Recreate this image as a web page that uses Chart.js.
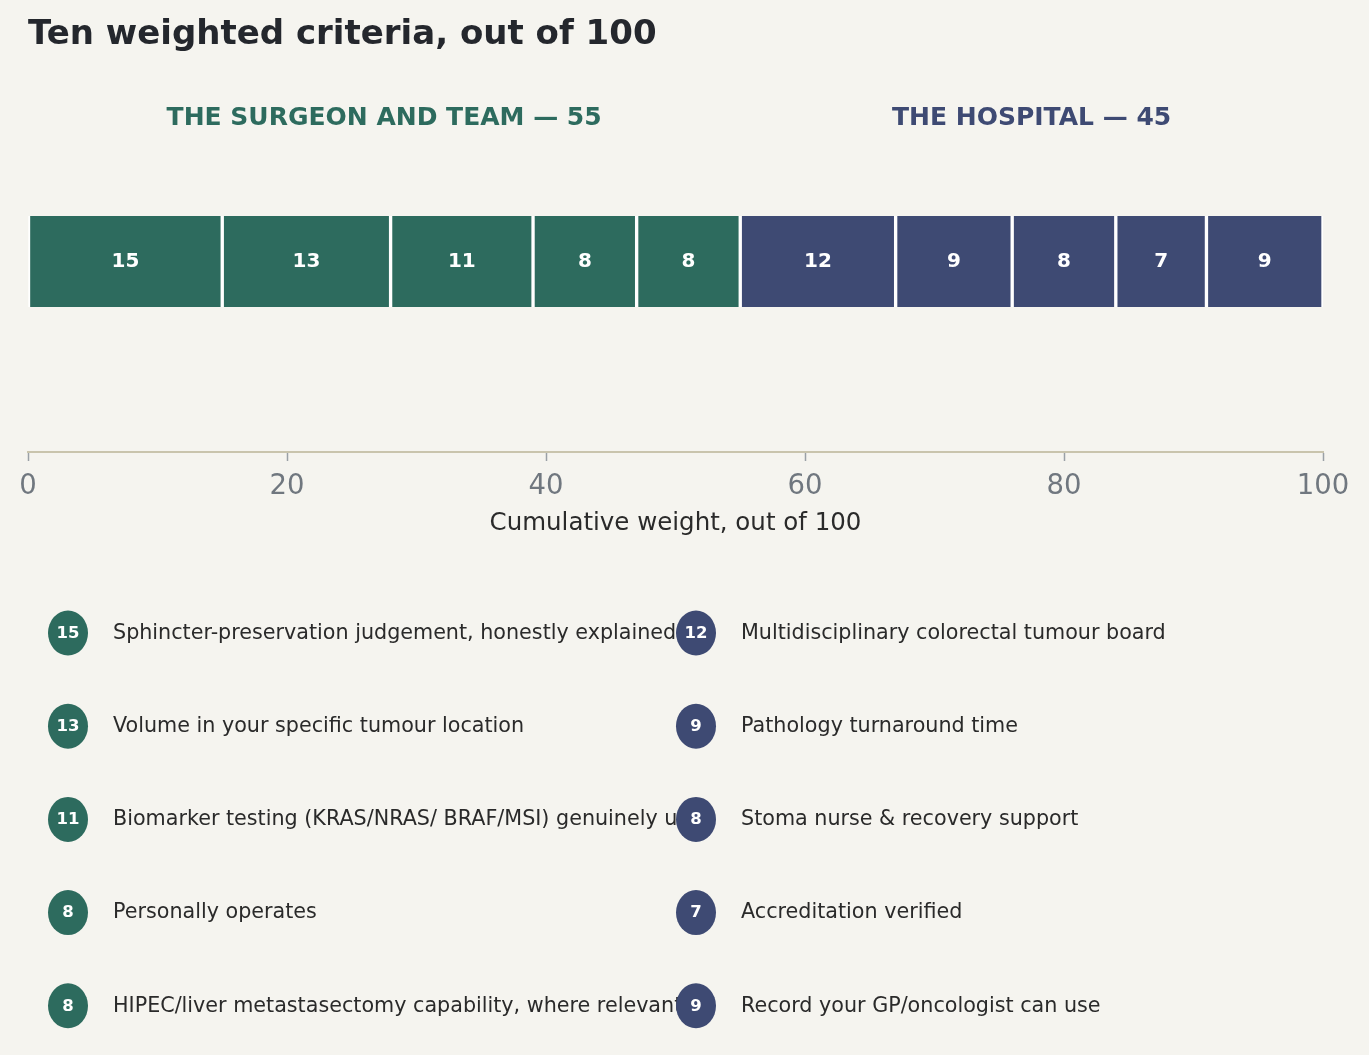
<!DOCTYPE html>
<html><head><meta charset="utf-8">
<script src="https://cdn.jsdelivr.net/npm/chart.js@4/dist/chart.umd.min.js"></script>
<style>
html,body{margin:0;padding:0;background:#f5f4ef;}
#wrap{position:relative;width:1369px;height:1055px;}
</style></head>
<body><div id="wrap"><canvas id="c" width="1369" height="1055"></canvas></div>
<script>
const titleText = "Ten weighted criteria, out of 100";
const groupNames = ["THE SURGEON AND TEAM — 55", "THE HOSPITAL — 45"];
const surgeonCriteria = [
  "Sphincter-preservation judgement, honestly explained",
  "Volume in your specific tumour location",
  "Biomarker testing (KRAS/NRAS/ BRAF/MSI) genuinely used",
  "Personally operates",
  "HIPEC/liver metastasectomy capability, where relevant"
];
const surgeonWeights = [15, 13, 11, 8, 8];
const hospitalCriteria = [
  "Multidisciplinary colorectal tumour board",
  "Pathology turnaround time",
  "Stoma nurse & recovery support",
  "Accreditation verified",
  "Record your GP/oncologist can use"
];
const hospitalWeights = [12, 9, 8, 7, 9];
const xTitle = "Cumulative weight, out of 100";
const xMin = 0, xMax = 100, xStep = 20;

const GREEN = "#2d6b5e", NAVY = "#3e4a73";
const FONT = "'DejaVu Sans', sans-serif";

const datasets = [];
surgeonCriteria.forEach((c, i) => datasets.push({label: c, data: [surgeonWeights[i]], backgroundColor: GREEN}));
hospitalCriteria.forEach((c, i) => datasets.push({label: c, data: [hospitalWeights[i]], backgroundColor: NAVY}));
datasets.forEach(d => {
  d.borderColor = "#ffffff";
  d.borderWidth = {left: 2, right: 2, top: 0, bottom: 0};
  d.borderSkipped = false;
  d.barThickness = 91;
  d.stack = "all";
});

const overlay = {
  id: "overlay",
  afterDatasetsDraw(chart) {
    const ctx = chart.ctx;
    const xs = chart.scales.x;
    ctx.save();
    ctx.fillStyle = "#ffffff";
    ctx.font = "bold 20px " + FONT;
    ctx.textAlign = "center";
    ctx.textBaseline = "middle";
    chart.data.datasets.forEach((d, i) => {
      const el = chart.getDatasetMeta(i).data[0];
      const left = Math.min(el.x, el.base), right = Math.max(el.x, el.base);
      ctx.fillText(String(d.data[0]), (left + right) / 2, el.y);
    });
    const sSum = surgeonWeights.reduce((a, b) => a + b, 0);
    const hSum = hospitalWeights.reduce((a, b) => a + b, 0);
    ctx.font = "bold 25px " + FONT;
    ctx.fillStyle = GREEN;
    ctx.fillText(groupNames[0], xs.getPixelForValue(sSum / 2), 118);
    ctx.fillStyle = NAVY;
    ctx.fillText(groupNames[1], xs.getPixelForValue(sSum + hSum / 2), 118);
    ctx.restore();
  },
  afterDraw(chart) {
    const ctx = chart.ctx;
    ctx.save();
    ctx.fillStyle = "#24272d";
    ctx.font = "bold 34px " + FONT;
    ctx.textAlign = "left";
    ctx.textBaseline = "middle";
    ctx.fillText(titleText, 28, 35);
    const cols = [
      {cx: 68, tx: 113, color: GREEN, items: surgeonCriteria, w: surgeonWeights},
      {cx: 696, tx: 741, color: NAVY, items: hospitalCriteria, w: hospitalWeights}
    ];
    cols.forEach(col => {
      col.items.forEach((label, i) => {
        const y = 633.5 + i * 93.2;
        ctx.fillStyle = col.color;
        ctx.beginPath();
        ctx.ellipse(col.cx, y - 0.5, 20, 22.5, 0, 0, Math.PI * 2);
        ctx.fill();
        ctx.fillStyle = "#ffffff";
        ctx.font = "bold 16.5px " + FONT;
        ctx.textAlign = "center";
        ctx.fillText(String(col.w[i]), col.cx, y);
        ctx.fillStyle = "#2a2a2a";
        ctx.font = "20.7px " + FONT;
        ctx.textAlign = "left";
        ctx.fillText(label, col.tx, y);
      });
    });
    ctx.restore();
  }
};

new Chart(document.getElementById("c"), {
  type: "bar",
  data: {labels: ["Weight"], datasets},
  options: {
    indexAxis: "y",
    responsive: false,
    animation: false,
    devicePixelRatio: 1,
    layout: {padding: {top: 71, left: 28, right: 46, bottom: 515}},
    plugins: {legend: {display: false}, tooltip: {enabled: false}, title: {display: false}},
    scales: {
      x: {
        stacked: true, min: xMin, max: xMax,
        afterFit(scale) { scale.height = 88; },
        border: {display: true, color: "#c9c4ad", width: 2},
        grid: {display: true, drawOnChartArea: false, drawTicks: true, tickLength: 9, color: "#9aa0a6", tickWidth: 1.5},
        ticks: {stepSize: xStep, color: "#70777f", font: {family: FONT, size: 27.5}, padding: 9, maxRotation: 0},
        title: {display: true, text: xTitle, color: "#2a2a2a", font: {family: FONT, size: 24.5}, padding: {top: 4, bottom: 2}}
      },
      y: {stacked: true, display: false}
    }
  },
  plugins: [overlay]
});
</script></body></html>
